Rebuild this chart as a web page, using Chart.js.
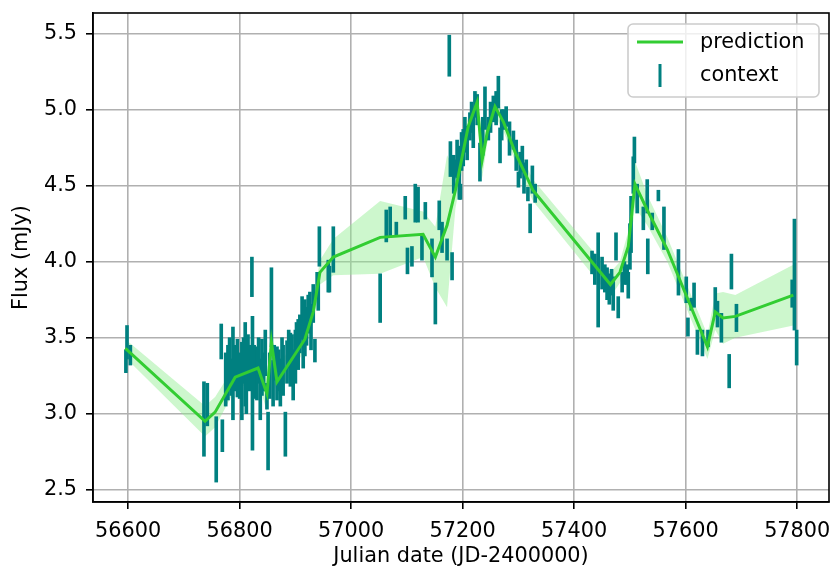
<!DOCTYPE html>
<html>
<head>
<meta charset="utf-8">
<script src="https://cdn.jsdelivr.net/npm/chart.js@4/dist/chart.umd.min.js"></script>
<style>
  html, body { margin: 0; padding: 0; background: #fff; }
</style>
</head>
<body>
<canvas id="lc" width="835" height="571"></canvas>
<script>
const xTicks = [56600, 56800, 57000, 57200, 57400, 57600, 57800];
const yTicks = [2.5, 3.0, 3.5, 4.0, 4.5, 5.0, 5.5];

// context points: date and the two ends of each error bar (mJy)
const ctxDate = [56596, 56598, 56604, 56736, 56742, 56758, 56767, 56769, 56775, 56779,
  56782, 56785, 56788, 56791, 56796, 56800, 56804, 56807, 56810, 56812,
  56815, 56818, 56822, 56823, 56826, 56831, 56834, 56837, 56840, 56843,
  56846, 56849, 56851, 56854, 56857, 56860, 56862, 56867, 56870, 56873,
  56876, 56878, 56882, 56885, 56888, 56891, 56894, 56896, 56900, 56902,
  56905, 56908, 56912, 56914, 56917, 56920, 56923, 56926, 56928, 56932,
  56935, 56939, 56941, 56943, 56959, 56961, 56968, 57052, 57063, 57070,
  57081, 57097, 57101, 57109, 57115, 57120, 57127, 57133, 57145, 57151,
  57158, 57163, 57172, 57176, 57178, 57181, 57184, 57187, 57190, 57194,
  57196, 57198, 57201, 57204, 57208, 57213, 57216, 57219, 57222, 57226,
  57231, 57236, 57240, 57246, 57250, 57255, 57260, 57264, 57267, 57270,
  57273, 57278, 57284, 57291, 57296, 57300, 57303, 57307, 57310, 57314,
  57317, 57321, 57325, 57330, 57432, 57437, 57443, 57450, 57455, 57459,
  57463, 57467, 57470, 57475, 57479, 57486, 57490, 57495, 57497, 57500,
  57502, 57506, 57508, 57513, 57524, 57531, 57532, 57540, 57551, 57561,
  57587, 57601, 57604, 57610, 57615, 57621, 57630, 57640, 57653, 57657,
  57664, 57678, 57682, 57691, 57791, 57795, 57799];
const ctxLow = [3.27, 3.36, 3.32, 2.72, 2.92, 2.55, 3.36, 2.75, 3.05, 3.09,
  3.20, 3.12, 2.96, 3.15, 3.11, 3.10, 2.96, 3.20, 3.05, 3.00,
  3.19, 3.15, 3.77, 2.76, 3.10, 3.09, 3.20, 2.96, 3.12, 3.15,
  3.25, 3.03, 2.63, 3.10, 3.44, 3.05, 3.22, 3.09, 3.15, 3.05,
  3.25, 3.12, 2.72, 3.20, 3.30, 3.18, 3.25, 3.09, 3.20, 3.35,
  3.29, 3.40, 3.49, 3.30, 3.38, 3.45, 3.53, 3.55, 3.42, 3.60,
  3.34, 3.80, 3.68, 3.97, 3.80, 3.80, 3.93, 3.60, 4.13, 4.17,
  4.17, 4.28, 3.92, 3.97, 4.26, 4.26, 4.01, 4.28, 3.90, 3.59,
  4.21, 4.06, 4.01, 5.22, 4.56, 3.88, 4.45, 4.56, 4.55, 4.41,
  4.41, 4.60, 4.63, 4.72, 4.67, 4.80, 4.85, 4.75, 4.95, 4.90,
  4.53, 4.70, 4.87, 4.80, 4.85, 4.92, 4.90, 5.01, 4.65, 4.80,
  4.87, 4.89, 4.70, 4.74, 4.60, 4.49, 4.55, 4.59, 4.45, 4.56,
  4.40, 4.19, 4.45, 4.39, 3.92, 3.85, 3.57, 3.82, 3.80, 3.75,
  3.72, 3.78, 3.68, 4.01, 3.63, 3.80, 3.85, 3.85, 3.76, 3.95,
  4.06, 4.45, 4.65, 4.32, 4.21, 4.32, 3.92, 4.21, 4.40, 4.08,
  3.78, 3.73, 3.51, 3.68, 3.70, 3.39, 3.38, 3.44, 3.64, 3.57,
  3.47, 3.17, 3.82, 3.54, 3.70, 3.55, 3.32];
const ctxHigh = [3.42, 3.58, 3.45, 3.21, 3.20, 2.98, 3.59, 2.96, 3.40, 3.45,
  3.50, 3.36, 3.57, 3.45, 3.49, 3.40, 3.47, 3.50, 3.60, 3.35,
  3.52, 3.45, 4.03, 3.64, 3.45, 3.44, 3.50, 3.36, 3.49, 3.40,
  3.55, 3.20, 3.01, 3.40, 3.96, 3.35, 3.45, 3.44, 3.42, 3.36,
  3.50, 3.45, 3.01, 3.48, 3.55, 3.53, 3.52, 3.42, 3.55, 3.60,
  3.62, 3.65, 3.77, 3.58, 3.75, 3.70, 3.78, 3.80, 3.72, 3.85,
  3.49, 3.93, 3.93, 4.23, 4.01, 3.97, 4.23, 3.92, 4.34, 4.36,
  4.26, 4.43, 4.09, 4.10, 4.51, 4.49, 4.17, 4.39, 4.15, 3.86,
  4.40, 4.26, 4.15, 5.49, 4.79, 4.06, 4.70, 4.67, 4.80, 4.76,
  4.51, 4.85, 4.87, 4.95, 4.89, 4.98, 5.05, 4.95, 5.12, 5.10,
  4.78, 4.95, 5.15, 4.95, 5.05, 5.09, 5.12, 5.22, 4.88, 5.00,
  5.00, 5.02, 4.92, 4.86, 4.80, 4.59, 4.72, 4.76, 4.65, 4.67,
  4.49, 4.38, 4.63, 4.51, 4.07, 4.05, 4.19, 4.03, 3.98, 3.96,
  3.92, 3.95, 3.90, 4.19, 3.77, 3.93, 4.00, 3.98, 3.93, 4.25,
  4.43, 4.69, 4.82, 4.51, 4.36, 4.54, 4.15, 4.32, 4.47, 4.36,
  4.08, 3.90, 3.63, 3.76, 3.86, 3.55, 3.55, 3.55, 3.83, 3.74,
  3.66, 3.39, 4.05, 3.72, 3.88, 4.28, 3.55];

// prediction: mean and the shaded interval
const predDate = [56595, 56738, 56756, 56792, 56833, 56849, 56857, 56867, 56917, 56932,
  56944, 56968, 57052, 57129, 57151, 57172, 57187, 57210, 57226, 57235,
  57244, 57258, 57273, 57294, 57326, 57465, 57482, 57497, 57509, 57531,
  57567, 57639, 57653, 57667, 57689, 57793];
const predFlux = [3.43, 2.95, 3.01, 3.24, 3.30, 3.13, 3.47, 3.21, 3.49, 3.67,
  3.93, 4.03, 4.16, 4.18, 4.03, 4.24, 4.47, 4.89, 5.05, 4.67,
  4.85, 5.02, 4.92, 4.72, 4.47, 3.85, 3.93, 4.10, 4.51, 4.34,
  4.08, 3.44, 3.67, 3.63, 3.64, 3.78];
const predLow = [3.37, 2.85, 2.91, 3.16, 3.22, 3.01, 3.37, 3.11, 3.42, 3.60,
  3.85, 3.91, 3.92, 4.03, 3.83, 3.70, 4.35, 4.82, 4.97, 4.55,
  4.78, 4.96, 4.86, 4.66, 4.40, 3.77, 3.86, 4.00, 4.36, 4.24,
  4.00, 3.36, 3.55, 3.46, 3.50, 3.58];
const predHigh = [3.49, 3.05, 3.11, 3.32, 3.38, 3.25, 3.57, 3.31, 3.56, 3.74,
  4.01, 4.15, 4.40, 4.33, 4.23, 4.70, 4.60, 4.96, 5.13, 4.79,
  4.92, 5.08, 4.98, 4.78, 4.54, 3.93, 4.00, 4.20, 4.66, 4.44,
  4.16, 3.52, 3.79, 3.80, 3.78, 3.98];

const FONT = "'DejaVu Sans', sans-serif";
const LINE_GREEN = "#32cd32";
const TEAL = "#008080";
const BAND = "rgba(144, 238, 144, 0.45)";

const pts = (xs, ys) => xs.map((x, i) => ({ x: x, y: ys[i] }));

// matplotlib-like frame and legend drawn in the plot corner
const frameAndLegend = {
  id: "frameAndLegend",
  afterDraw(chart) {
    const { ctx, chartArea: a } = chart;
    ctx.save();
    ctx.strokeStyle = "#000";
    ctx.lineWidth = 1.6;
    ctx.strokeRect(a.left, a.top, a.right - a.left, a.bottom - a.top);

    const w = 191, h = 73;
    const x0 = a.right - 10 - w, y0 = a.top + 11;
    ctx.beginPath();
    ctx.roundRect(x0, y0, w, h, 5);
    ctx.fillStyle = "rgba(255,255,255,0.8)";
    ctx.fill();
    ctx.strokeStyle = "#cccccc";
    ctx.lineWidth = 1.6;
    ctx.stroke();

    ctx.lineCap = "butt";
    ctx.strokeStyle = LINE_GREEN;
    ctx.lineWidth = 3;
    ctx.beginPath();
    ctx.moveTo(x0 + 9, y0 + 18);
    ctx.lineTo(x0 + 55, y0 + 18);
    ctx.stroke();

    ctx.strokeStyle = TEAL;
    ctx.beginPath();
    ctx.moveTo(x0 + 32, y0 + 40);
    ctx.lineTo(x0 + 32, y0 + 63);
    ctx.stroke();

    ctx.fillStyle = "#000";
    ctx.font = "20.8px " + FONT;
    ctx.textBaseline = "middle";
    ctx.textAlign = "left";
    ctx.fillText("prediction", x0 + 72, y0 + 19);
    ctx.fillText("context", x0 + 72, y0 + 52);
    ctx.restore();
  },
};

const tickFont = { family: FONT, size: 20.8 };

new Chart(document.getElementById("lc"), {
  type: "line",
  data: {
    datasets: [
      {
        label: "prediction",
        data: pts(predDate, predFlux),
        borderColor: LINE_GREEN,
        borderWidth: 3,
        pointRadius: 0,
        tension: 0,
        fill: false,
        order: 0,
      },
      {
        type: "bar",
        label: "context",
        data: ctxDate.map((x, i) => ({ x: x, y: [ctxLow[i], ctxHigh[i]] })),
        backgroundColor: TEAL,
        borderWidth: 0,
        barThickness: 3,
        order: 1,
      },
      {
        label: "upper",
        data: pts(predDate, predHigh),
        borderWidth: 0,
        pointRadius: 0,
        backgroundColor: BAND,
        fill: "+1",
        order: 2,
      },
      {
        label: "lower",
        data: pts(predDate, predLow),
        borderWidth: 0,
        pointRadius: 0,
        fill: false,
        order: 3,
      },
    ],
  },
  options: {
    responsive: false,
    animation: false,
    events: [],
    devicePixelRatio: 1,
    layout: { padding: { top: 13, right: 6, left: 0, bottom: 0 } },
    plugins: {
      legend: { display: false },
      tooltip: { enabled: false },
    },
    scales: {
      x: {
        type: "linear",
        min: 56537,
        max: 57857,
        offset: false,
        afterBuildTicks: (s) => { s.ticks = xTicks.map((v) => ({ value: v })); },
        afterFit: (s) => { s.height = 69; s.paddingLeft = 0; s.paddingRight = 0; },
        grid: { offset: false, color: "#b0b0b0", lineWidth: 1.6, tickColor: "#000", tickLength: 7, tickWidth: 1.6 },
        border: { display: true, color: "#000", width: 1.6 },
        ticks: {
          font: tickFont, color: "#000", padding: 10,
          maxRotation: 0, autoSkip: false,
          callback: (v) => String(v),
        },
        title: {
          display: true, text: "Julian date (JD-2400000)",
          font: tickFont, color: "#000", padding: { top: 0, bottom: 2 },
        },
      },
      y: {
        type: "linear",
        min: 2.419,
        max: 5.636,
        afterBuildTicks: (s) => { s.ticks = yTicks.map((v) => ({ value: v })); },
        afterFit: (s) => { s.width = 93; s.paddingTop = 0; s.paddingBottom = 0; },
        grid: { color: "#b0b0b0", lineWidth: 1.6, tickColor: "#000", tickLength: 7, tickWidth: 1.6 },
        border: { display: true, color: "#000", width: 1.6 },
        ticks: {
          font: tickFont, color: "#000", padding: 9,
          callback: (v) => v.toFixed(1),
        },
        title: {
          display: true, text: "Flux (mJy)",
          font: tickFont, color: "#000", padding: { top: 9, bottom: 0 },
        },
      },
    },
  },
  plugins: [frameAndLegend],
});
</script>
</body>
</html>
